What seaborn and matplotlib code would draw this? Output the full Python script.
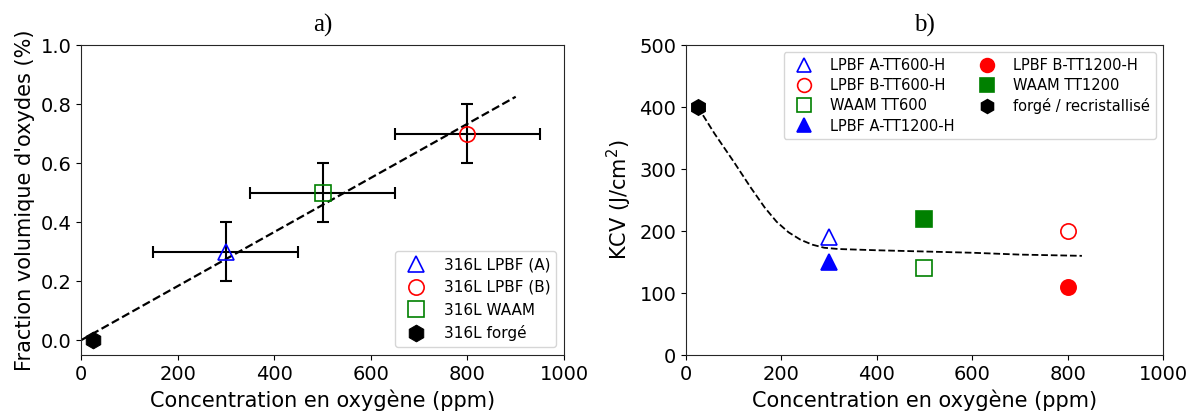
import matplotlib
matplotlib.use('Agg')
import matplotlib.pyplot as plt
import seaborn as sns

# a) fraction volumique d'oxydes
oxy_x = [300, 800, 500]
oxy_y = [0.3, 0.7, 0.5]
oxy_xerr = [150, 150, 150]
oxy_yerr = [0.1, 0.1, 0.1]
oxy_labels = ['316L LPBF (A)', '316L LPBF (B)', '316L WAAM']
forge_x = 25
forge_frac = 0.0
fit_a_x = [0, 900]
fit_a_y = [0.0, 0.825]

# b) KCV
kcv_labels = ['LPBF A-TT600-H', 'LPBF B-TT600-H', 'WAAM TT600', 'LPBF A-TT1200-H',
              'LPBF B-TT1200-H', 'WAAM TT1200', 'forgé / recristallisé']
kcv_x = [300, 800, 500, 300, 800, 500, 25]
kcv_y = [190, 200, 140, 150, 110, 220, 400]
fit_b_x = [25, 60, 100, 135, 165, 190, 215, 240, 265, 290, 320, 400, 500, 600, 700, 830]
fit_b_y = [400, 357, 312, 271, 238, 215, 198, 186, 178, 173, 171, 169, 167, 165, 162, 160]

sns.set_style('ticks')
plt.rcParams['font.family'] = ['DejaVu Sans']
plt.rcParams['text.color'] = 'black'
plt.rcParams['axes.labelcolor'] = 'black'
plt.rcParams['xtick.color'] = 'black'
plt.rcParams['ytick.color'] = 'black'

fig = plt.figure(figsize=(11.98, 4.16), dpi=100)
ax1 = fig.add_axes([0.0676, 0.1466, 0.4032, 0.745])
ax2 = fig.add_axes([0.5726, 0.1466, 0.3982, 0.745])

# --- panel a
styles_a = [('^', 'blue'), ('o', 'red'), ('s', 'green')]
ax1.errorbar(oxy_x, oxy_y, xerr=oxy_xerr, yerr=oxy_yerr, fmt='none', ecolor='black',
             elinewidth=1.5, capsize=4, capthick=1.5, zorder=2)
sns.lineplot(x=fit_a_x, y=fit_a_y, color='black', linestyle='--', linewidth=1.6, ax=ax1, zorder=1)
for (m, c), x, y, lab in zip(styles_a, oxy_x, oxy_y, oxy_labels):
    sns.lineplot(x=[x], y=[y], marker=m, linestyle='', markersize=11, mfc='none', mec=c,
                 mew=1.2, color=c, label=lab, ax=ax1, zorder=3)
sns.lineplot(x=[forge_x], y=[forge_frac], marker='h', linestyle='', markersize=12,
             color='black', mec='black', label='316L forgé', ax=ax1, zorder=3)

ax1.set_xlim(0, 1000)
ax1.set_ylim(-0.05, 1.0)
ax1.set_xticks(range(0, 1001, 200))
ax1.set_yticks([0.0, 0.2, 0.4, 0.6, 0.8, 1.0])
ax1.set_xlabel('Concentration en oxygène (ppm)', fontsize=15)
ax1.set_ylabel("Fraction volumique d'oxydes (%)", fontsize=15)
ax1.tick_params(labelsize=14)
ax1.set_title('a)', fontsize=18, family='Liberation Serif', pad=10)
ax1.legend(loc='lower right', fontsize=11, numpoints=1)

# --- panel b
styles_b = [('^', 'blue', False), ('o', 'red', False), ('s', 'green', False),
            ('^', 'blue', True), ('o', 'red', True), ('s', 'green', True),
            ('h', 'black', True)]
sns.lineplot(x=fit_b_x, y=fit_b_y, color='black', linestyle='--', linewidth=1.3, ax=ax2, zorder=1)
for (m, c, filled), x, y, lab in zip(styles_b, kcv_x, kcv_y, kcv_labels):
    sns.lineplot(x=[x], y=[y], marker=m, linestyle='', markersize=11,
                 mfc=c if filled else 'none', mec=c, mew=1.2, color=c,
                 label=lab, ax=ax2, zorder=3)

ax2.set_xlim(0, 1000)
ax2.set_ylim(0, 500)
ax2.set_xticks(range(0, 1001, 200))
ax2.set_yticks(range(0, 501, 100))
ax2.set_xlabel('Concentration en oxygène (ppm)', fontsize=15)
ax2.set_ylabel('KCV (J/cm$^2$)', fontsize=15)
ax2.tick_params(labelsize=14)
ax2.set_title('b)', fontsize=18, family='Liberation Serif', pad=10)
ax2.legend(loc='upper right', ncol=2, fontsize=10.5, numpoints=1,
           labelspacing=0.35, columnspacing=1.2, markerscale=0.9)

fig.savefig('out.png', dpi=100)
